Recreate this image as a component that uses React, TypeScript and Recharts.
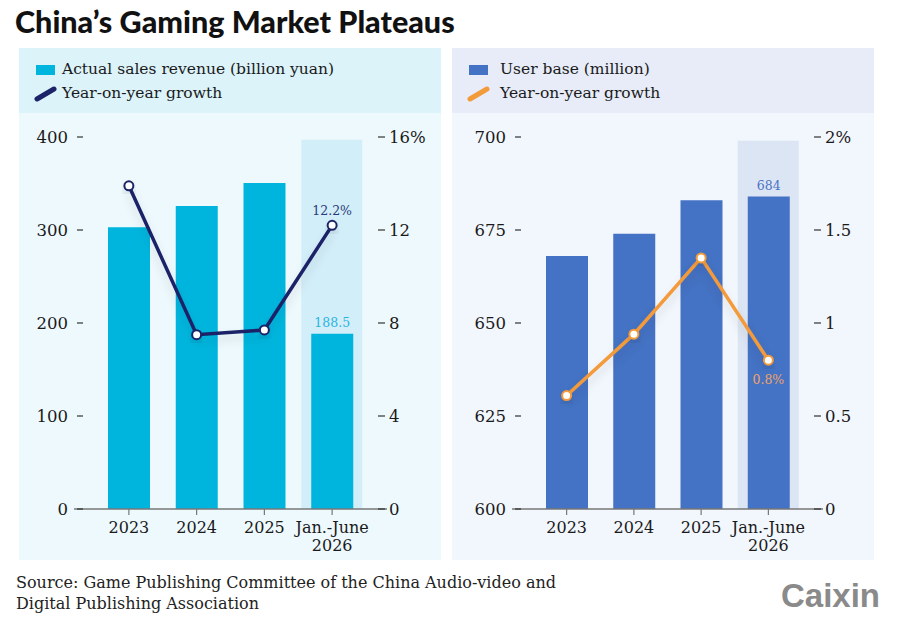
import React from 'react'
import {
  ComposedChart,
  Bar,
  Line,
  XAxis,
  YAxis,
  LabelList,
} from 'recharts'

const categories = ['2023', '2024', '2025', 'Jan.-June 2026']

// left panel: revenue
const revenue = [302.9, 325.8, 350.5, 188.5]
const revenueGrowth = [13.9, 7.5, 7.7, 12.2]
const revenueHighlight = [null, null, null, 397]
const revenueTicks = [0, 100, 200, 300, 400]
const revenueGrowthTicks = [0, 4, 8, 12, 16]

// right panel: users
const users = [668, 674, 683, 684]
const userGrowth = [0.61, 0.94, 1.35, 0.8]
const userHighlight = [null, null, null, 699]
const userTicks = [600, 625, 650, 675, 700]
const userGrowthTicks = [0, 0.5, 1, 1.5, 2]

const SERIF = '"DejaVu Serif", serif'

const YTick = ({ y, payload, textX, dashX1, dashX2, anchor, topValue }: any) => {
  const label = payload.value === topValue && anchor === 'start' ? `${payload.value}%` : `${payload.value}`
  return (
    <g>
      <line x1={dashX1} x2={dashX2} y1={y} y2={y} stroke="#333" strokeWidth={1.2} />
      <text
        x={textX}
        y={y}
        dy="0.36em"
        textAnchor={anchor}
        fontFamily={SERIF}
        fontSize={16.5}
        fill="#1a1a1a"
      >
        {label}
      </text>
    </g>
  )
}

const XTick = ({ x, y, payload }: any) => {
  const lines = String(payload.value).split(' ')
  return (
    <text x={x} y={y + 16} textAnchor="middle" fontFamily={SERIF} fontSize={16} fill="#1a1a1a">
      {lines.map((l, i) => (
        <tspan key={i} x={x} dy={i === 0 ? 0 : 18}>
          {l}
        </tspan>
      ))}
    </text>
  )
}

interface PanelProps {
  left: number
  legendBg: string
  chartBg: string
  barColor: string
  highlightColor: string
  lineColor: string
  barLabel: string
  lineLabel: string
  bars: number[]
  growth: number[]
  highlight: (number | null)[]
  leftTicks: number[]
  rightTicks: number[]
  yLeftWidth: number
  yRightWidth: number
  barLabelColor: string
  lineLabelColor: string
  lineLabelBelow: boolean
  lineLabelText: string
  barLabelText: string
}

function Panel(p: PanelProps) {
  const data = categories.map((c, i) => ({
    name: c,
    value: p.bars[i],
    growth: p.growth[i],
    bg: p.highlight[i],
  }))
  const plotRight = 422 - p.yRightWidth
  const leftDomain = [p.leftTicks[0], p.leftTicks[p.leftTicks.length - 1]]
  const rightDomain = [p.rightTicks[0], p.rightTicks[p.rightTicks.length - 1]]
  const last = data.length - 1
  const sid = `sh${p.left}`

  return (
    <div style={{ position: 'absolute', left: p.left, top: 48, width: 422, height: 512 }}>
      {/* Legend */}
      <div style={{ position: 'absolute', left: 0, top: 0, width: 422, height: 65, background: p.legendBg }}>
        <div style={{ position: 'absolute', left: 17, top: 17, width: 19, height: 10, background: p.barColor }} />
        <svg style={{ position: 'absolute', left: 15, top: 38 }} width={24} height={16}>
          <line x1={3} y1={13} x2={20} y2={3} stroke={p.lineColor} strokeWidth={5} strokeLinecap="round" />
        </svg>
        <div
          style={{
            position: 'absolute',
            left: p.left === 19 ? 43 : 48,
            top: 9,
            fontFamily: SERIF,
            fontSize: 15.5,
            lineHeight: '24px',
            color: '#1a1a1a',
            whiteSpace: 'nowrap',
          }}
        >
          <div>{p.barLabel}</div>
          <div>{p.lineLabel}</div>
        </div>
      </div>

      {/* Chart */}
      <div style={{ position: 'absolute', left: 0, top: 65, width: 422, height: 447, background: p.chartBg }}>
        <ComposedChart
          width={422}
          height={447}
          data={data}
          margin={{ top: 24, right: 0, bottom: 0, left: 0 }}
        >
          <defs>
            <filter id={sid} x="-20%" y="-20%" width="140%" height="160%">
              <feDropShadow dx={0} dy={6} stdDeviation={5} floodColor="#000" floodOpacity={0.12} />
            </filter>
          </defs>
          <XAxis
            dataKey="name"
            xAxisId="main"
            height={51}
            padding={{ left: 21, right: 21 }}
            axisLine={{ stroke: '#777', strokeWidth: 1.5 }}
            tickLine={{ stroke: '#777', strokeWidth: 1.2 }}
            tickSize={6}
            tick={<XTick />}
            interval={0}
          />
          <XAxis dataKey="name" xAxisId="bg" hide height={0} padding={{ left: 21, right: 21 }} />
          <YAxis
            yAxisId="left"
            orientation="left"
            width={p.yLeftWidth}
            domain={leftDomain}
            ticks={p.leftTicks}
            axisLine={false}
            tickLine={false}
            interval={0}
            tick={(tp: any) => (
              <YTick
                {...tp}
                textX={p.yLeftWidth - 6}
                dashX1={p.yLeftWidth + 3}
                dashX2={p.yLeftWidth + 9}
                anchor="end"
              />
            )}
          />
          <YAxis
            yAxisId="right"
            orientation="right"
            width={p.yRightWidth}
            domain={rightDomain}
            ticks={p.rightTicks}
            axisLine={false}
            tickLine={false}
            interval={0}
            tick={(tp: any) => (
              <YTick
                {...tp}
                textX={plotRight + 2}
                dashX1={plotRight - 9}
                dashX2={plotRight - 2}
                anchor="start"
                topValue={p.rightTicks[p.rightTicks.length - 1]}
              />
            )}
          />
          <Bar
            dataKey="bg"
            xAxisId="bg"
            yAxisId="left"
            barSize={61}
            fill={p.highlightColor}
            isAnimationActive={false}
          />
          <Bar
            dataKey="value"
            xAxisId="main"
            yAxisId="left"
            barSize={42}
            fill={p.barColor}
            isAnimationActive={false}
          >
            <LabelList
              dataKey="value"
              content={(lp: any) =>
                lp.index === last ? (
                  <text
                    x={lp.x + lp.width / 2}
                    y={lp.y - 11}
                    dy="0.36em"
                    textAnchor="middle"
                    fontFamily={SERIF}
                    fontSize={12.5}
                    fill={p.barLabelColor}
                  >
                    {p.barLabelText}
                  </text>
                ) : null
              }
            />
          </Bar>
          <Line
            dataKey="growth"
            xAxisId="main"
            yAxisId="right"
            type="linear"
            stroke={p.lineColor}
            strokeWidth={3.5}
            filter={`url(#${sid})`}
            dot={{ r: 4.5, fill: '#fff', stroke: p.lineColor, strokeWidth: 2 }}
            activeDot={false}
            isAnimationActive={false}
          >
            <LabelList
              dataKey="growth"
              content={(lp: any) =>
                lp.index === last ? (
                  <text
                    x={lp.x}
                    y={p.lineLabelBelow ? lp.y + 19 : lp.y - 15}
                    dy="0.36em"
                    textAnchor="middle"
                    fontFamily={SERIF}
                    fontSize={12.5}
                    fill={p.lineLabelColor}
                  >
                    {p.lineLabelText}
                  </text>
                ) : null
              }
            />
          </Line>
        </ComposedChart>
      </div>
    </div>
  )
}

export default function App() {
  return (
    <div
      style={{
        position: 'absolute',
        left: 0,
        top: 0,
        width: 900,
        height: 623,
        background: '#fff',
        overflow: 'hidden',
      }}
    >
      <div
        style={{
          position: 'absolute',
          left: 15,
          top: 3,
          fontFamily: 'Lato, sans-serif',
          fontWeight: 900,
          fontSize: 30.5,
          color: '#111',
          whiteSpace: 'nowrap',
        }}
      >
        China’s Gaming Market Plateaus
      </div>

      <Panel
        left={19}
        legendBg="#dcf3fa"
        chartBg="#eef9fd"
        barColor="#00b5dd"
        highlightColor="#d2eef8"
        lineColor="#1b2468"
        barLabel="Actual sales revenue (billion yuan)"
        lineLabel="Year-on-year growth"
        bars={revenue}
        growth={revenueGrowth}
        highlight={revenueHighlight}
        leftTicks={revenueTicks}
        rightTicks={revenueGrowthTicks}
        yLeftWidth={55}
        yRightWidth={54}
        barLabelColor="#2ab4e2"
        lineLabelColor="#2a3a78"
        lineLabelBelow={false}
        lineLabelText={`${revenueGrowth[3]}%`}
        barLabelText={`${revenue[3]}`}
      />

      <Panel
        left={452}
        legendBg="#e7ecf8"
        chartBg="#f2f6fd"
        barColor="#4472c4"
        highlightColor="#dce5f3"
        lineColor="#f39a3a"
        barLabel="User base (million)"
        lineLabel="Year-on-year growth"
        bars={users}
        growth={userGrowth}
        highlight={userHighlight}
        leftTicks={userTicks}
        rightTicks={userGrowthTicks}
        yLeftWidth={60}
        yRightWidth={51}
        barLabelColor="#4a72c4"
        lineLabelColor="#f0a466"
        lineLabelBelow={true}
        lineLabelText={`${userGrowth[3]}%`}
        barLabelText={`${users[3]}`}
      />

      <div
        style={{
          position: 'absolute',
          left: 16,
          top: 572,
          fontFamily: SERIF,
          fontSize: 16,
          lineHeight: '21px',
          color: '#222',
          whiteSpace: 'nowrap',
        }}
      >
        <div>Source: Game Publishing Committee of the China Audio-video and</div>
        <div>Digital Publishing Association</div>
      </div>

      <div
        style={{
          position: 'absolute',
          left: 781,
          top: 577,
          fontFamily: '"Liberation Sans", Arial, sans-serif',
          fontWeight: 700,
          fontSize: 33,
          lineHeight: '38px',
          color: '#8a8a8a',
        }}
      >
        Caixin
      </div>
    </div>
  )
}
